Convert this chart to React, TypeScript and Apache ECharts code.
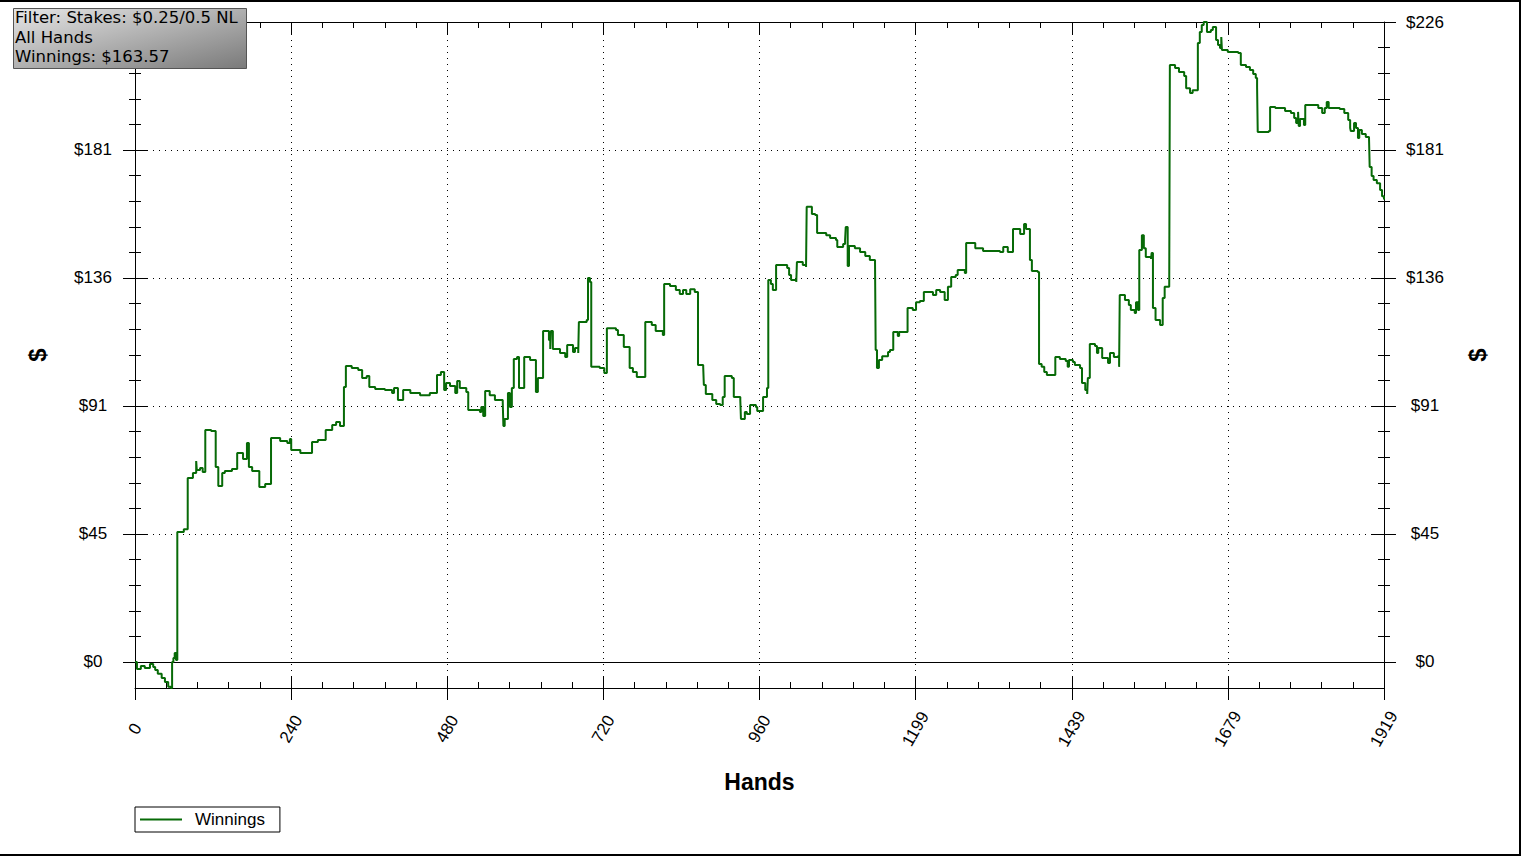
import React, { useEffect, useRef } from "react";
import * as echarts from "echarts";

// ---- data ----
const hands = [
  0, 3, 9, 15, 23, 28, 31, 35, 41, 46,
  51, 55, 57, 59, 61, 63, 65, 75, 81, 89,
  94, 95, 100, 104, 108, 117, 124, 128, 134, 138,
  149, 157, 166, 172, 175, 180, 191, 200, 209, 223,
  234, 238, 240, 254, 272, 281, 293, 303, 309, 315,
  321, 324, 333, 343, 349, 356, 360, 369, 384, 395,
  398, 404, 412, 423, 438, 453, 464, 470, 475, 478,
  484, 492, 495, 499, 509, 512, 530, 532, 535, 538,
  545, 553, 565, 566, 568, 573, 576, 579, 582, 587,
  590, 598, 607, 616, 619, 627, 636, 638, 639, 642,
  653, 661, 664, 673, 676, 681, 682, 694, 696, 699,
  701, 714, 721, 725, 739, 742, 751, 760, 765, 771,
  784, 794, 800, 811, 813, 822, 831, 837, 842, 847,
  853, 860, 865, 873, 874, 877, 887, 893, 899, 903,
  906, 917, 920, 930, 931, 937, 940, 945, 954, 956,
  965, 971, 973, 977, 980, 985, 1002, 1005, 1008, 1016,
  1017, 1026, 1031, 1032, 1040, 1045, 1048, 1062, 1068, 1077,
  1079, 1088, 1091, 1092, 1095, 1097, 1106, 1114, 1122, 1129,
  1137, 1138, 1140, 1143, 1148, 1157, 1160, 1165, 1172, 1174,
  1187, 1195, 1200, 1206, 1212, 1226, 1231, 1237, 1244, 1249,
  1254, 1261, 1264, 1275, 1277, 1291, 1303, 1329, 1334, 1341,
  1349, 1360, 1366, 1369, 1375, 1378, 1387, 1389, 1393, 1397,
  1401, 1414, 1421, 1430, 1433, 1435, 1441, 1444, 1452, 1455,
  1460, 1463, 1464, 1467, 1475, 1478, 1480, 1486, 1495, 1498,
  1504, 1510, 1512, 1513, 1521, 1527, 1530, 1536, 1538, 1541,
  1543, 1547, 1550, 1553, 1561, 1562, 1564, 1568, 1575, 1579,
  1582, 1589, 1590, 1598, 1604, 1612, 1615, 1621, 1625, 1633,
  1636, 1639, 1642, 1647, 1653, 1656, 1661, 1664, 1667, 1669,
  1670, 1679, 1695, 1699, 1707, 1713, 1718, 1722, 1724, 1725,
  1742, 1744, 1752, 1767, 1776, 1781, 1784, 1787, 1788, 1790,
  1796, 1798, 1818, 1824, 1828, 1831, 1834, 1851, 1858, 1864,
  1867, 1868, 1873, 1876, 1879, 1881, 1885, 1891, 1896, 1897,
  1900, 1903, 1908, 1913, 1916, 1919,
];

const winnings = [
  0, -2.5, -1.4, -2.1, -0.7, -1.8, -2.8, -4.2, -5.7, -7.1,
  -8.8, -9.2, 0, 1.4, 3.2, 0.7, 46.0, 47.0, 65.1, 66.9,
  71.1, 67.9, 68.6, 67.2, 82.1, 81.7, 69.0, 62.3, 66.9, 67.6,
  68.3, 73.9, 71.8, 77.5, 69.0, 67.6, 61.9, 63.0, 79.2, 78.2,
  77.5, 78.9, 75.0, 73.9, 77.8, 78.5, 82.1, 83.8, 84.9, 83.5,
  97.3, 104.7, 104.0, 103.3, 100.5, 101.2, 97.3, 96.6, 96.2, 95.2,
  96.9, 92.7, 96.2, 95.2, 94.4, 95.2, 101.5, 102.6, 96.2, 98.7,
  97.6, 95.2, 99.4, 96.9, 95.5, 89.1, 88.4, 90.2, 87.0, 95.9,
  94.4, 92.7, 92.0, 83.5, 86.0, 95.2, 90.2, 96.9, 107.2, 107.9,
  96.9, 107.9, 106.8, 95.5, 100.5, 117.1, 113.9, 110.7, 117.1, 110.7,
  109.3, 107.9, 112.1, 109.7, 111.1, 109.3, 120.3, 121.0, 135.8, 134.4,
  104.4, 104.0, 102.2, 118.1, 117.4, 115.7, 111.4, 104.0, 102.6, 100.8,
  120.3, 119.2, 117.1, 115.7, 133.7, 133.0, 131.6, 130.2, 131.6, 130.2,
  131.9, 130.9, 105.1, 104.4, 98.0, 94.8, 92.7, 91.3, 90.9, 93.7,
  101.2, 100.5, 93.7, 92.7, 86.0, 88.4, 87.7, 90.9, 90.2, 88.8,
  93.7, 96.9, 135.1, 133.7, 131.6, 140.4, 139.4, 136.9, 135.1, 134.4,
  141.5, 140.4, 139.7, 161.0, 158.5, 158.1, 151.8, 151.0, 150.0, 149.3,
  146.8, 147.9, 149.3, 153.9, 140.1, 147.2, 146.4, 145.0, 143.6, 142.2,
  141.1, 110.4, 104.0, 106.8, 108.2, 109.7, 110.4, 116.7, 115.3, 116.7,
  125.2, 124.5, 127.3, 127.7, 130.9, 129.8, 131.6, 130.9, 128.1, 132.7,
  136.2, 136.9, 138.7, 137.6, 148.2, 146.4, 145.4, 145.0, 146.8, 145.0,
  153.2, 151.4, 154.9, 153.2, 142.2, 138.3, 138.0, 105.4, 104.4, 102.6,
  101.5, 107.9, 107.2, 106.5, 104.4, 106.8, 106.1, 105.1, 104.0, 98.7,
  96.2, 94.8, 100.5, 112.5, 111.8, 109.3, 111.1, 107.5, 105.8, 109.3,
  107.9, 108.2, 104.4, 129.8, 128.1, 126.3, 124.5, 123.5, 127.3, 124.5,
  145.7, 151.0, 146.4, 143.3, 142.6, 144.7, 125.2, 121.0, 119.2, 128.8,
  132.7, 133.0, 211.2, 210.1, 208.7, 207.3, 203.0, 201.3, 202.3, 219.0,
  222.9, 225.3, 226.4, 222.9, 223.6, 224.6, 220.0, 218.3, 217.2, 221.1,
  216.5, 215.8, 215.4, 211.2, 210.5, 209.4, 208.0, 206.6, 203.4, 187.5,
  187.8, 196.3, 196.0, 194.9, 194.2, 192.4, 190.7, 194.6, 189.6, 192.1,
  190.0, 197.0, 196.0, 194.2, 196.0, 198.1, 196.0, 195.6, 194.2, 191.7,
  188.9, 187.8, 190.7, 188.9, 185.4, 188.2, 186.8, 185.7, 185.0, 175.1,
  171.9, 170.5, 169.4, 167.0, 164.8, 163.57,
];

const xMin = 0;
const xMax = 1919;
const xInterval = 239.875;
const yMin = -9.2;
const yMax = 226.4;
const yMajorTicks = [0, 45.28, 90.56, 135.84, 181.12, 226.4];
// the left top label ($226) sits under the info box in the reference
const yLeftLabels = [0, 45.28, 90.56, 135.84, 181.12];
const yRightLabels = [0, 45.28, 90.56, 135.84, 181.12, 226.4];
const infoLines = ["Filter: Stakes: $0.25/0.5 NL", "All Hands"];
const seriesName = "Winnings";

const yMinorTicks: number[] = [];
for (let i = 0; i + 1 < yMajorTicks.length; i++) {
  const a = yMajorTicks[i];
  const b = yMajorTicks[i + 1];
  for (let k = 1; k < 5; k++) yMinorTicks.push(a + ((b - a) * k) / 5);
}

const GREEN = "#076a07";
const FONT = '"Liberation Sans", Arial, sans-serif';
const BLACK_LINE = { color: "#000", width: 1 };
const DOTTED = { show: true, lineStyle: { color: "#000", width: 1, type: [1, 5] } };

export default function App() {
  const ref = useRef<HTMLDivElement>(null);

  useEffect(() => {
    if (!ref.current) return;
    const chart = echarts.init(ref.current, undefined, { renderer: "svg" });

    const data = hands.map((h, i) => [h, winnings[i]]);
    const last = winnings[winnings.length - 1];
    const boxText = [...infoLines, `${seriesName}: $${last.toFixed(2)}`].join("\n");

    const xBase = { type: "value", min: xMin, max: xMax, interval: xInterval, gridIndex: 0 };
    const yBase = { type: "value", min: yMin, max: yMax, gridIndex: 0 };
    const yFmt = (v: number) => "$" + Math.round(v);

    const yAxes = (pos: "left" | "right", labels: number[], margin: number, nameGap: number) => [
      {
        ...yBase,
        position: pos,
        axisLine: { show: true, onZero: false, lineStyle: BLACK_LINE },
        axisTick: { show: false, customValues: yMajorTicks },
        axisLabel: {
          show: true,
          customValues: labels,
          formatter: yFmt,
          margin,
          align: "center",
          color: "#000",
          fontSize: 17,
          fontFamily: FONT,
        },
        splitLine: pos === "left" ? DOTTED : { show: false },
        name: "$",
        nameLocation: "middle",
        nameGap,
        nameTextStyle: { fontWeight: "bold", fontSize: 24, color: "#000", fontFamily: FONT, verticalAlign: "middle", align: "center" },
      },
      {
        ...yBase,
        position: pos,
        offset: 12,
        axisLine: { show: false, onZero: false },
        axisTick: { show: true, inside: true, length: 24, customValues: yMajorTicks, lineStyle: BLACK_LINE },
        axisLabel: { show: false },
        splitLine: { show: false },
      },
      {
        ...yBase,
        position: pos,
        offset: 6,
        axisLine: { show: false, onZero: false },
        axisTick: { show: true, inside: true, length: 12, customValues: yMinorTicks, lineStyle: BLACK_LINE },
        axisLabel: { show: false },
        splitLine: { show: false },
      },
    ];

    chart.setOption({
      animation: false,
      backgroundColor: "#fff",
      textStyle: { fontFamily: FONT },
      grid: { left: 135, right: 139, top: 22, bottom: 168, containLabel: false },
      xAxis: [
        {
          ...xBase,
          position: "bottom",
          axisLine: { show: true, onZero: false, lineStyle: BLACK_LINE },
          axisTick: { show: true, inside: true, length: 12, lineStyle: BLACK_LINE },
          minorTick: { show: true, splitNumber: 5, length: 6, lineStyle: BLACK_LINE },
          axisLabel: {
            show: true,
            rotate: 60,
            margin: 41,
            align: "center",
            verticalAlign: "middle",
            formatter: (v: number) => String(Math.round(v)),
            color: "#000",
            fontSize: 17,
            fontFamily: FONT,
            showMinLabel: true,
            showMaxLabel: true,
          },
          splitLine: DOTTED,
          name: "Hands",
          nameLocation: "middle",
          nameGap: 94,
          nameTextStyle: { fontWeight: "bold", fontSize: 23, color: "#000", fontFamily: FONT, verticalAlign: "middle" },
        },
        {
          ...xBase,
          position: "bottom",
          axisLine: { show: false, onZero: false },
          axisTick: { show: true, inside: false, length: 12, lineStyle: BLACK_LINE },
          axisLabel: { show: false },
          splitLine: { show: false },
        },
        {
          ...xBase,
          position: "top",
          axisLine: { show: true, onZero: false, lineStyle: BLACK_LINE },
          axisTick: { show: true, inside: true, length: 13, lineStyle: BLACK_LINE },
          minorTick: { show: true, splitNumber: 5, length: 6, lineStyle: BLACK_LINE },
          axisLabel: { show: false },
          splitLine: { show: false },
        },
      ],
      yAxis: [...yAxes("left", yLeftLabels, 42, 98), ...yAxes("right", yRightLabels, 41, 93)],
      legend: {
        data: [seriesName],
        left: 135,
        top: 807,
        icon: "rect",
        itemWidth: 42,
        itemHeight: 2,
        borderColor: "#000",
        borderWidth: 1,
        borderRadius: 0,
        backgroundColor: "#fff",
        padding: [3, 15, 3, 5],
        selectedMode: false,
        textStyle: { color: "#000", fontSize: 17, fontFamily: FONT, lineHeight: 19, padding: [0, 0, 0, 8] },
      },
      series: [
        {
          name: seriesName,
          type: "line",
          xAxisIndex: 0,
          yAxisIndex: 0,
          step: "end",
          showSymbol: false,
          symbol: "none",
          data,
          lineStyle: { color: GREEN, width: 2 },
          itemStyle: { color: GREEN },
          z: 3,
          markLine: {
            silent: true,
            symbol: "none",
            label: { show: false },
            lineStyle: { color: "#000", width: 1, type: "solid" },
            data: [{ yAxis: 0 }],
            z: 2,
          },
        },
      ],
      graphic: [
        {
          type: "rect",
          silent: true,
          z: 100,
          shape: { x: -2, y: 1, width: 1522, height: 854 },
          style: { fill: "none", stroke: "#000", lineWidth: 2 },
        },
        {
          type: "rect",
          silent: true,
          z: 100,
          shape: { x: 13.5, y: 8.5, width: 233, height: 60 },
          style: {
            fill: new echarts.graphic.LinearGradient(0, 0, 1, 1, [
              { offset: 0, color: "#e6e6e6" },
              { offset: 1, color: "#7a7a7a" },
            ]),
            stroke: "#555",
            lineWidth: 1,
          },
        },
        {
          type: "text",
          silent: true,
          z: 101,
          x: 15,
          y: 8,
          style: {
            text: boxText,
            fontSize: 16.5,
            fontFamily: '"DejaVu Sans", Verdana, sans-serif',
            lineHeight: 19.5,
            fill: "#000",
          },
        },
      ],
    });

    return () => chart.dispose();
  }, []);

  return (
    <div
      ref={ref}
      style={{ position: "fixed", left: 0, top: 0, width: 1523, height: 856, background: "#fff" }}
    />
  );
}
